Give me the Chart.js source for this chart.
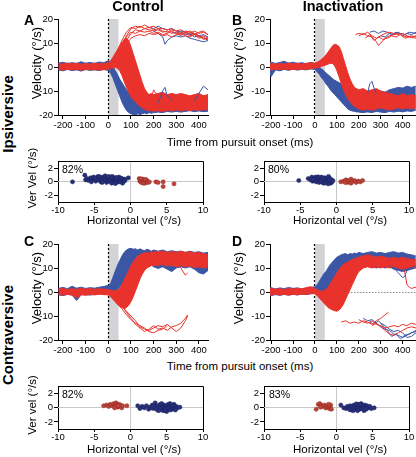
<!DOCTYPE html>
<html>
<head>
<meta charset="utf-8">
<script src="https://cdn.jsdelivr.net/npm/chart.js@4.4.1/dist/chart.umd.min.js"></script>
<style>
  body { margin: 0; background: #fff; font-family: "Liberation Sans", Arial, sans-serif; color: #000; }
  #fig { position: relative; width: 416px; height: 457px; overflow: hidden; }
  #fig canvas { position: absolute; }
  .t { position: absolute; white-space: nowrap; line-height: 1; transform: translate(-50%, -50%); }
  .v { transform: translate(-50%, -50%) rotate(-90deg); }
  .l { transform: translate(0, -50%); }
  .b { font-weight: bold; }
</style>
</head>
<body>
<div id="fig"></div>
<script>
// time base for the trace envelopes (ms from pursuit onset)
const TIME = [-220,-200,-180,-160,-140,-120,-100,-80,-60,-40,-20,
  0,10,20,30,40,50,60,70,80,90,100,110,120,130,140,150,160,170,180,190,200,
  220,240,260,280,300,320,340,360,380,400,420,440,460];
const TIME_TICKS = [-200,-100,0,100,200,300,400];
const VEL_TICKS = [-20,-10,0,10,20];
const SHADE = [0, 45];
const HV_TICKS = [-10,-5,0,5,10];
const VV_TICKS = [-2,0,2];

// ---- A: control, ipsiversive ----
const A_BLUE_HI = [1.6,2.0,1.4,1.8,1.5,2.2,1.6,1.9,1.5,2.1,1.8,
  2.6,2.0,0.5,-1.5,-3,-5,-6.5,-8,-9.5,-10.5,-11.5,-12,-12.5,-12,-12.5,-12,-11.5,-12,-11.5,-12,-12.5,
  -12,-11,-12,-12.5,-12,-12.5,-12,-12.5,-12,-11.5,-12,-12.5,-12];
const A_BLUE_LO = [-1.2,-1.6,-1.0,-1.5,-1.2,-1.7,-1.1,-1.4,-1.2,-1.5,-1.0,
  -1.5,-2.5,-4.5,-7,-9.5,-12,-14.5,-16.5,-18,-19,-19.5,-19.8,-20,-19.5,-19.8,-19.5,-19.2,-19.5,-19,-19.3,-19,
  -18.8,-19,-18.5,-18.8,-18.5,-18.8,-18.5,-18.2,-18.6,-18.3,-18.6,-18.4,-18.5];
const A_RED_HI = [1.5,1.2,1.7,1.3,1.6,1.1,1.5,1.2,1.6,1.3,1.5,
  1.8,2.5,4,5.5,7,8.5,10,11.5,12,11,8.5,5.5,2.5,-0.5,-3.5,-6.5,-9,-10.5,-11.5,-11,-11.5,
  -11,-10.5,-11.5,-11,-11.5,-11,-11.5,-12,-11.5,-11,-12,-11.5,-12];
const A_RED_LO = [-1.0,-1.3,-0.9,-1.2,-1.0,-1.4,-0.9,-1.2,-1.0,-1.3,-1.1,
  -1.0,-0.5,-0.5,0,-0.5,-1.5,-3.5,-6,-8.5,-10.5,-12.5,-13.5,-14.5,-15.5,-16.5,-17,-17.5,-18,-18.3,-18,-18.5,
  -18.2,-18.6,-18,-18.4,-17.8,-18.3,-17.9,-18.2,-17.8,-18.1,-17.7,-18,-17.8];
const A_BLUE_TRACES = [
  [[185,16.5],[200,16],[220,17],[240,16],[260,15.5],[280,16],[300,15],[320,14.5],[340,13.5],[360,14],[380,12.5],[400,13],[420,12],[440,11.5],[460,12]],
  [[200,15],[220,14],[240,12.5],[250,9.5],[260,11],[280,12.5],[300,13],[320,12.5],[340,13],[360,12],[380,11.5],[400,11],[420,10.5],[440,11],[460,10.5]],
  [[280,14.5],[300,14],[320,15],[340,14.5],[360,13.5],[380,14],[400,13],[420,13.5],[440,12.5],[460,13]],
  [[220,-15],[240,-10],[250,-8.5],[260,-12],[280,-14]],
  [[380,-14],[400,-11],[420,-8],[440,-9.5],[460,-12]]
];
const A_RED_TRACES = [
  [[0,0.5],[20,2],[40,5],[60,9],[80,13],[100,16],[120,17],[140,16.5],[160,17.5],[180,16.5],[200,17],[220,16],[240,16],[260,15.5],[280,16],[300,15],[320,15.5],[340,14.5],[360,14],[380,15],[400,14],[420,14.5],[440,13.5],[460,14]],
  [[0,0],[20,1.5],[40,4],[60,7.5],[80,11],[100,14],[120,15.5],[140,15],[160,16],[180,15.5],[200,15],[220,15.5],[240,14.5],[260,15],[280,14],[300,14.5],[320,13.5],[340,14],[360,13],[380,13.5],[400,12.5],[420,13],[440,12],[460,12.5]],
  [[0,0.5],[20,2.5],[40,6],[60,10],[80,12.5],[100,14.5],[120,14],[140,15],[160,14.5],[180,15],[200,14],[220,14.5],[240,13.5],[260,14],[280,15],[300,14],[320,13],[340,14.5],[360,15],[380,14],[400,13],[420,11.5],[440,12],[460,11]],
  [[0,0],[20,1],[40,3.5],[60,6.5],[80,9.5],[100,12],[120,13],[140,13.5],[160,13],[180,14],[200,13.5],[220,14],[240,13],[260,13.5],[280,12.5],[300,13.5],[320,14],[340,13],[360,12.5],[380,13.5],[400,12],[420,12.5],[440,11],[460,11.5]],
  [[0,1],[20,3],[40,7],[60,11],[80,14.5],[100,16.5],[120,16],[140,17],[160,16],[180,16.5],[200,15.5],[220,16],[240,15],[260,14.5],[280,15.5],[300,15],[320,14],[340,15],[360,14.5],[380,13.5],[400,14.5],[420,15],[440,13.5],[460,13]],
  [[190,-13],[200,-9.5],[210,-11],[220,-13]]
];

// ---- B: inactivation, ipsiversive ----
const B_BLUE_HI = [1.8,2.0,1.5,1.9,2.4,1.6,2.0,1.5,1.8,1.4,1.9,
  1.5,0.8,0,-0.8,-1.5,-2.5,-3.2,-4,-4.8,-5.5,-6,-6.5,-7.2,-8,-8.5,-9.2,-10,-10.5,-10.8,-11,-11.2,
  -11,-10.5,-11,-10.5,-10,-10.5,-9.5,-9,-8.5,-8.8,-8,-8.5,-8];
const B_BLUE_LO = [-1.5,-4,-1.2,-1.6,-1.0,-1.4,-0.9,-1.3,-1.0,-1.2,-0.8,
  -1.0,-2,-3,-4.5,-5.5,-7,-8,-9.5,-10.5,-11.5,-12.5,-13.5,-14.5,-15.5,-16.5,-17.5,-18,-18.3,-18.5,-18.7,-18.8,
  -19,-18.7,-19,-18.5,-18.8,-19,-18.5,-18.8,-18.4,-18.7,-18.3,-18.5,-18];
const B_RED_HI = [1.2,1.6,1.1,1.5,1.2,1.7,1.3,1.6,1.2,1.5,1.8,
  1.6,2.0,2.5,3.2,4,5,6.2,7.5,8.8,9.5,9.2,8.5,6.5,3.5,0.5,-2.5,-5,-7,-8.5,-9,-9.5,
  -9,-10,-9.5,-9,-10,-10.5,-11,-11.5,-12,-11,-12,-11.5,-12];
const B_RED_LO = [-0.8,-1.2,-0.9,-1.1,-0.8,-1.2,-0.9,-1.1,-0.8,-1.0,-0.7,
  -0.5,-0.3,0,0.3,0.5,0.8,1.2,1.5,1.5,0.5,-1.5,-4,-7,-9.5,-11.5,-13,-14.5,-15.5,-16.5,-17,-17.5,
  -18,-17.5,-18,-17.5,-17,-17.5,-18,-17.5,-17,-17.5,-17,-17.5,-17];
const B_BLUE_TRACES = [
  [[250,14.5],[270,15],[290,14],[310,15],[330,14.5],[350,13.5],[370,14.5],[390,14],[410,13.5],[430,14.5],[461,14]],
  [[300,13],[320,12.5],[340,14],[360,13.5],[380,14.5],[400,13],[420,14],[440,13.5],[461,14.5]],
  [[240,-11],[250,-7],[260,-6],[270,-9],[280,-11]]
];
const B_RED_TRACES = [
  [[185,13.5],[200,14],[220,13.5],[240,14.5],[260,13],[280,12],[300,13],[320,14],[340,14.5],[360,14],[380,13.5],[400,14],[420,13],[440,12.5],[461,13]],
  [[200,13],[220,14],[240,13],[260,12.5],[280,10.5],[290,9],[300,10],[320,12],[340,13],[360,13.5],[380,14],[400,13],[420,12.5],[440,13],[461,12.5]],
  [[230,12],[250,13.5],[270,11],[290,12.5],[310,11.5],[330,12],[350,13],[370,12.5],[390,13.5],[410,12],[430,12.5],[461,12]]
];

// ---- C: control, contraversive ----
const C_BLUE_HI = [1.5,1.9,1.4,2.4,1.6,2.0,1.5,1.8,1.6,2.0,2.3,
  2.8,3.5,6,8.5,11,13,15,16.5,17.5,18,18.2,17.8,18,17.5,18,17.5,17.2,17.8,17.5,17,17.5,
  17,17.5,16.8,17.2,16.8,17,16.5,17,16.5,16.8,16.2,16.5,16];
const C_BLUE_LO = [-1.2,-1.5,-1.0,-1.3,-3.5,-1.2,-1.0,-1.3,-0.9,-0.8,-0.5,
  0,0,0.2,0.5,1,2,3,4.5,6,7.5,9,10,11,11.5,11.8,12,11.5,11,10.8,11.2,10.5,
  9.8,10.5,9.5,8.5,10,10.5,10,10.5,9.5,8,7.5,9,10];
const C_RED_HI = [1.2,1.5,1.0,1.4,1.1,1.6,1.2,1.5,1.1,1.4,1.2,
  1.0,0.8,0.5,0.5,0.8,1.5,3,5,7,9,11,12.5,14,15,15.5,16,16.3,16.5,16.2,16.8,16.5,
  16.8,17,16.5,16.8,16.5,17,16.5,16.8,16.2,16.5,16,15.5,15];
const C_RED_LO = [-1.0,-1.3,-1.0,-1.2,-2.5,-1.1,-1.4,-1.0,-1.2,-0.9,-1.1,
  -1.2,-2,-3,-4,-5,-6,-6.5,-7,-6.5,-5.5,-4,-2,0.5,3,5.5,7.5,9,10,10.5,11,11.2,
  11,11.5,10.8,11.2,10.5,11,10.5,10.8,10.2,10.5,10,10.5,10];
const C_BLUE_TRACES = [];
const C_RED_TRACES = [
  [[0,0],[20,-2],[40,-4],[60,-6],[80,-8],[100,-10],[120,-12],[140,-14.5],[160,-15.5],[180,-16],[200,-15],[220,-14],[240,-14.5],[260,-13.5],[280,-15],[300,-16.5],[320,-15],[340,-12],[350,-10]],
  [[0,0],[20,-1.5],[40,-3.5],[60,-5.5],[80,-8.5],[100,-11],[120,-13.5],[140,-15],[160,-16.5],[180,-15.5],[200,-14],[220,-15.5],[240,-15],[260,-16],[280,-14.5],[300,-14],[320,-13],[340,-11],[350,-9.5]],
  [[0,0],[20,-2.5],[40,-5],[60,-7],[80,-9.5],[100,-11.5],[120,-13],[140,-14],[160,-15],[180,-16.5],[200,-17],[220,-16],[240,-15.5],[260,-14]],
  [[280,12.5],[300,12],[320,10],[340,7],[350,8]]
];

// ---- D: inactivation, contraversive ----
const D_BLUE_HI = [1.5,1.8,1.3,1.7,1.4,1.9,1.5,1.7,1.3,1.6,1.9,
  2.2,3,4.5,6,7.5,8.5,10,11.5,12.5,13.5,14.5,15,15.5,15.8,16,15.5,16,15.8,16.2,16,16.5,
  16,16.5,16.8,16.2,16.5,16,16.5,16.8,16.2,16.5,15.8,15.5,15];
const D_BLUE_LO = [-1.2,-1.5,-1.1,-1.4,-1.0,-1.3,-1.0,-1.2,-0.9,-1.1,-0.8,
  -0.5,-0.5,-0.2,0,0.3,0.7,1.5,2.5,3.5,4.3,5,6,7,8,9,10,10.5,11,11.5,11.8,11.5,
  11,11.5,10.5,10,10.5,10,10.5,9.5,9,8.5,9,9.5,10];
const D_RED_HI = [1.2,1.6,1.1,1.4,1.0,1.5,1.2,1.6,1.3,1.8,2.2,
  1.5,1,0.5,0.3,0.5,1,2,3.5,5,6.5,8,9.5,10.5,11.5,12,12.5,13,13.5,14,14.2,14.5,
  15,15.5,15,14.5,15,14.5,14,14.5,14,14.5,14,13.5,13.5];
const D_RED_LO = [-1.0,-1.3,-0.9,-1.2,-1.0,-1.3,-0.9,-1.2,-0.8,-1.0,-0.6,
  -0.8,-1.5,-2.5,-3.5,-4.5,-5.5,-6.5,-7,-7.5,-7.8,-8,-7.5,-6.5,-5,-3,-1,1,3,5,7,8.5,
  10,10.5,10,10.5,10,10.5,10,10.5,10,9.5,10,10.5,10];
const D_BLUE_TRACES = [
  [[340,11],[360,10],[380,8],[400,6],[410,6.5],[420,9],[440,10],[461,11]],
  [[220,-11],[240,-12],[260,-11.5],[280,-13],[300,-14.5],[320,-15.5],[340,-16],[360,-17.5],[380,-18],[400,-19],[420,-18],[440,-17],[461,-16.5]],
  [[250,-12.5],[270,-13.5],[290,-12],[310,-14],[330,-16],[350,-18.5],[370,-17.5],[390,-19.5],[410,-18],[430,-17.5],[461,-16]],
  [[300,-13],[320,-14],[340,-15.5],[360,-16.5],[380,-16],[400,-17],[420,-19],[440,-18.5],[461,-17]]
];
const D_RED_TRACES = [
  [[120,-12.5],[140,-12],[160,-13],[180,-12.5],[200,-13],[220,-12],[240,-12.5],[260,-13.5],[280,-12],[300,-11],[320,-9.5],[335,-8.5]],
  [[200,-11.5],[220,-12.5],[240,-13],[260,-12],[280,-13.5],[300,-14],[320,-15],[340,-14.5],[360,-14],[380,-14.5],[400,-13.5],[420,-14],[440,-13],[461,-13.5]],
  [[260,-14],[280,-13],[300,-14.5],[320,-16],[340,-17.5],[360,-18],[380,-17],[400,-16],[420,-15],[440,-14.5],[461,-15]],
  [[380,12],[400,11],[410,8],[420,3],[430,2],[440,1.5],[461,2]]
];

// ---- steady-state eye velocity scatter (horizontal, vertical) ----
const SA_BLUE = [[-8,0],[-6.3,1.0],[-6.2,0.3],[-6.0,0.5],[-5.8,0.2],[-5.6,0.4],[-5.5,0.6],[-5.3,0.3],[-5.1,0.7],[-5.0,0.4],[-4.8,0.1],[-4.7,0.5],[-4.5,0.8],[-4.4,0.3],[-4.2,0.6],[-4.1,0.0],[-4.0,0.4],[-3.8,0.7],[-3.7,0.2],[-3.6,0.5],[-3.5,0.9],[-3.4,0.3],[-3.3,-0.1],[-3.2,0.6],[-3.1,0.4],[-3.0,0.1],[-2.9,0.7],[-2.8,0.3],[-2.7,0.5],[-2.6,-0.2],[-2.5,0.8],[-2.4,0.2],[-2.3,0.5],[-2.2,0.0],[-2.1,0.6],[-2.0,0.3],[-1.9,-0.1],[-1.8,0.5],[-1.7,0.2],[-1.6,0.7],[-1.5,0.0],[-1.4,0.4],[-1.3,0.1],[-1.2,0.5],[-1.1,-0.2],[-1.0,0.3],[-0.9,0.1],[-0.8,0.4],[-0.3,0.6],[-4.9,0.6],[-3.9,-0.1],[-2.65,0.75],[-1.95,0.65],[-5.4,0.0],[-4.3,0.8],[-3.05,0.8],[-2.1,-0.25],[-1.35,0.55],[-0.75,0.2]];
const SA_RED = [[1.2,0.5],[1.3,0.1],[1.4,0.3],[1.5,-0.1],[1.6,0.2],[1.7,0.4],[1.8,0.0],[1.9,0.2],[2.0,-0.2],[2.1,0.1],[2.2,0.3],[2.4,-0.1],[2.6,0.0],[3.5,0.0],[3.8,-0.1],[4.5,0.0],[4.5,-0.7],[6.0,-0.3],[1.45,0.45],[1.75,-0.2],[2.05,0.35]];
const SB_BLUE = [[-5.2,0.2],[-3.9,0.5],[-3.6,0.3],[-3.4,0.7],[-3.3,0.1],[-3.1,0.5],[-3.0,0.2],[-2.9,0.7],[-2.8,0.0],[-2.7,0.4],[-2.6,0.6],[-2.5,0.2],[-2.4,-0.1],[-2.3,0.5],[-2.2,0.3],[-2.1,0.7],[-2.0,0.0],[-1.9,0.4],[-1.8,-0.2],[-1.7,0.3],[-1.6,0.6],[-1.5,0.1],[-1.4,0.4],[-1.3,-0.1],[-1.2,0.3],[-1.1,0.8],[-1.0,0.1],[-0.9,0.5],[-0.8,-0.2],[-0.7,0.3],[-0.6,0.0],[-0.5,0.2],[-2.55,0.75],[-1.85,0.6],[-1.15,-0.3],[-3.2,0.35],[-2.15,0.1],[-0.95,0.3],[-1.55,-0.15]];
const SB_RED = [[0.6,0.0],[1.0,0.1],[1.3,0.3],[1.5,-0.1],[1.6,0.2],[1.8,0.0],[2.0,0.4],[2.0,-0.2],[2.2,0.1],[2.5,0.2],[2.7,-0.1],[3.0,0.1],[3.3,0.0],[3.6,0.2],[1.2,-0.1]];
const SC_BLUE = [[1.0,0.3],[1.3,-0.1],[1.6,0.2],[1.9,0.0],[2.2,0.3],[2.5,-0.2],[2.7,0.1],[3.0,0.4],[3.2,-0.1],[3.4,0.7],[3.5,0.2],[3.7,-0.3],[3.8,0.3],[4.0,0.0],[4.1,0.5],[4.2,-0.2],[4.4,0.2],[4.5,-0.4],[4.6,0.4],[4.7,0.0],[4.8,-0.2],[4.9,0.3],[5.0,-0.5],[5.1,0.1],[5.2,0.5],[5.3,-0.1],[5.4,0.2],[5.5,-0.3],[5.6,0.4],[5.7,0.0],[5.8,-0.2],[5.9,0.2],[6.0,0.5],[6.1,-0.1],[6.3,0.2],[6.5,0.0],[6.8,0.1],[3.9,-0.4],[4.3,0.6],[5.45,0.6],[2.9,0.0],[4.85,-0.45],[5.75,0.35],[3.1,0.25],[6.2,-0.3]];
const SC_RED = [[-3.7,0.3],[-3.3,0.4],[-3.0,0.2],[-2.8,0.5],[-2.5,0.3],[-2.3,0.6],[-2.1,0.2],[-2.0,0.7],[-1.9,0.4],[-1.8,0.1],[-1.6,0.5],[-1.5,0.2],[-1.4,0.4],[-1.2,0.0],[-1.1,0.3],[-0.5,0.3],[-2.2,0.0],[-1.7,0.3]];
const SD_BLUE = [[0.6,0.4],[1.0,0.0],[1.3,-0.1],[1.5,0.2],[1.7,0.0],[1.9,0.3],[2.0,-0.3],[2.2,0.1],[2.4,0.4],[2.5,-0.2],[2.6,0.1],[2.8,0.3],[2.9,-0.4],[3.0,0.0],[3.1,0.5],[3.2,-0.2],[3.3,0.2],[3.4,0.6],[3.5,-0.1],[3.6,0.3],[3.7,0.0],[3.8,-0.4],[3.9,0.4],[4.0,0.1],[4.1,-0.2],[4.2,0.3],[4.4,0.0],[4.6,0.2],[4.8,-0.1],[5.2,0.0],[2.3,-0.4],[3.25,0.45],[2.75,0.55],[1.8,-0.25],[3.95,-0.15]];
const SD_RED = [[-2.8,-0.2],[-2.5,0.5],[-2.3,0.6],[-2.1,0.3],[-1.9,0.2],[-1.7,0.4],[-1.5,0.0],[-1.3,0.3],[-1.2,0.1],[-1.0,-0.1],[-0.9,0.2],[-0.8,0.4],[-0.7,-0.2],[-1.1,0.5],[-2.2,0.1]];

const BLUE = '#3c56a6';
const RED = '#e8322b';
const DOT_BLUE = '#28307a';
const DOT_RED = '#bf4239';

Chart.defaults.font.family = '"Liberation Sans", Arial, sans-serif';
Chart.defaults.color = '#000';

const fig = document.getElementById('fig');

// pixel helper matching chart.js border alignment
const align = (p) => Math.round(p - 0.5) + 0.5;

const markers = {
  id: 'markers',
  beforeDatasetsDraw(chart, args, opts) {
    const { ctx, chartArea: a, scales: { x, y } } = chart;
    ctx.save();
    ctx.beginPath();
    ctx.rect(a.left, a.top, a.right - a.left, a.bottom - a.top);
    ctx.clip();
    if (opts.shade) {
      const x0 = x.getPixelForValue(SHADE[0]);
      const x1 = x.getPixelForValue(SHADE[1]);
      ctx.fillStyle = '#d3d3d7';
      ctx.fillRect(x0, a.top, x1 - x0, a.bottom - a.top);
      ctx.strokeStyle = '#000';
      ctx.lineWidth = 1.2;
      ctx.setLineDash([2, 2]);
      ctx.beginPath();
      ctx.moveTo(align(x0), a.top);
      ctx.lineTo(align(x0), a.bottom);
      ctx.stroke();
    }
    if (opts.zeroLine) {
      const y0 = align(y.getPixelForValue(0));
      ctx.strokeStyle = '#888';
      ctx.lineWidth = 1;
      ctx.setLineDash([1.5, 1.5]);
      ctx.beginPath();
      ctx.moveTo(x.getPixelForValue(0), y0);
      ctx.lineTo(a.right, y0);
      ctx.stroke();
    }
    if (opts.cross) {
      ctx.strokeStyle = '#c8c8c8';
      ctx.lineWidth = 1;
      ctx.setLineDash([]);
      const x0 = align(x.getPixelForValue(0));
      const y0 = align(y.getPixelForValue(0));
      ctx.beginPath();
      ctx.moveTo(x0, a.top); ctx.lineTo(x0, a.bottom);
      ctx.moveTo(a.left, y0); ctx.lineTo(a.right, y0);
      ctx.stroke();
    }
    ctx.restore();
  },
  afterDraw(chart, args, opts) {
    if (!opts.box) return;
    const { ctx, chartArea: a } = chart;
    ctx.save();
    ctx.strokeStyle = '#000';
    ctx.lineWidth = 1;
    ctx.beginPath();
    ctx.moveTo(align(a.left), align(a.top));
    ctx.lineTo(align(a.right), align(a.top));
    ctx.lineTo(align(a.right), align(a.bottom));
    ctx.stroke();
    ctx.restore();
  }
};

function axis(kind, min, max, ticks, size, fontSize, tickLen, pad) {
  return {
    type: 'linear', min, max,
    afterBuildTicks: (s) => { s.ticks = ticks.map((v) => ({ value: v })); },
    afterFit: (s) => { if (kind === 'x') s.height = size; else s.width = size; },
    grid: { display: true, drawOnChartArea: false, drawTicks: true, tickLength: tickLen, color: '#000', lineWidth: 1 },
    border: { display: true, color: '#000', width: 1 },
    ticks: { color: '#000', font: { size: fontSize }, padding: pad, autoSkip: false, maxRotation: 0 }
  };
}

function placeCanvas(box, pad) {
  const canvas = document.createElement('canvas');
  canvas.width = box.r - box.l + pad.l + pad.r;
  canvas.height = box.b - box.t + pad.t + pad.b;
  canvas.style.left = (box.l - pad.l) + 'px';
  canvas.style.top = (box.t - pad.t) + 'px';
  fig.appendChild(canvas);
  return canvas;
}

function velocityChart(box, xMin, xMax, bands, blueTraces, redTraces, zeroLine) {
  const pad = { l: 30, t: 8, r: 10, b: 18 };
  const canvas = placeCanvas(box, pad);
  const datasets = [];
  const line = (pts, color, extra) => datasets.push(Object.assign({
    data: pts.map((p) => ({ x: p[0], y: p[1] })),
    borderColor: color, backgroundColor: color, borderWidth: 1,
    pointRadius: 0, tension: 0, fill: false
  }, extra || {}));
  const band = (lo, hi, color) => {
    line(TIME.map((t, i) => [t, lo[i]]), color);
    line(TIME.map((t, i) => [t, hi[i]]), color, { fill: datasets.length - 1 });
  };
  band(bands[0], bands[1], BLUE);
  band(bands[2], bands[3], RED);
  blueTraces.forEach((tr) => line(tr, BLUE));
  redTraces.forEach((tr) => line(tr, RED));
  datasets.forEach((d, i) => { d.order = 100 - i; });

  new Chart(canvas, {
    type: 'line',
    data: { datasets },
    options: {
      responsive: false, animation: false, events: [],
      layout: { padding: { top: pad.t, right: pad.r, left: 0, bottom: 0 } },
      plugins: { legend: { display: false }, tooltip: { enabled: false }, markers: { shade: true, zeroLine } },
      scales: {
        x: axis('x', xMin, xMax, TIME_TICKS, pad.b, 9.5, 4, 1),
        y: axis('y', -20, 20, VEL_TICKS, pad.l, 9.5, 4, 1)
      }
    },
    plugins: [markers]
  });
}

function scatterChart(box, blue, red) {
  const pad = { l: 24, t: 4, r: 6, b: 16 };
  const canvas = placeCanvas(box, pad);
  const pts = (arr) => arr.map((p) => ({ x: p[0], y: p[1] }));
  new Chart(canvas, {
    type: 'scatter',
    data: {
      datasets: [
        { data: pts(blue), backgroundColor: DOT_BLUE, borderColor: '#1b2060', borderWidth: 0.5, pointRadius: 2.1 },
        { data: pts(red), backgroundColor: DOT_RED, borderColor: '#8e2a24', borderWidth: 0.5, pointRadius: 2.1 }
      ]
    },
    options: {
      responsive: false, animation: false, events: [],
      layout: { padding: { top: pad.t, right: pad.r, left: 0, bottom: 0 } },
      plugins: { legend: { display: false }, tooltip: { enabled: false }, markers: { cross: true, box: true } },
      scales: {
        x: axis('x', -10, 10, HV_TICKS, pad.b, 9.5, 3, 0),
        y: axis('y', -3, 3, VV_TICKS, pad.l, 9.5, 4, 1)
      }
    },
    plugins: [markers]
  });
}

velocityChart({ l: 58, t: 19, r: 208, b: 115 }, -222, 440, [A_BLUE_LO, A_BLUE_HI, A_RED_LO, A_RED_HI], A_BLUE_TRACES, A_RED_TRACES, false);
velocityChart({ l: 270, t: 19, r: 416, b: 115 }, -205, 461, [B_BLUE_LO, B_BLUE_HI, B_RED_LO, B_RED_HI], B_BLUE_TRACES, B_RED_TRACES, false);
velocityChart({ l: 58, t: 244, r: 208, b: 340 }, -222, 440, [C_BLUE_LO, C_BLUE_HI, C_RED_LO, C_RED_HI], C_BLUE_TRACES, C_RED_TRACES, false);
velocityChart({ l: 270, t: 244, r: 416, b: 340 }, -205, 461, [D_BLUE_LO, D_BLUE_HI, D_RED_LO, D_RED_HI], D_BLUE_TRACES, D_RED_TRACES, true);

scatterChart({ l: 58, t: 159, r: 203, b: 202 }, SA_BLUE, SA_RED);
scatterChart({ l: 264, t: 159, r: 409, b: 202 }, SB_BLUE, SB_RED);
scatterChart({ l: 58, t: 384, r: 203, b: 429 }, SC_BLUE, SC_RED);
scatterChart({ l: 264, t: 384, r: 409, b: 429 }, SD_BLUE, SD_RED);

// text: [text, x, y, size, classes]
const LABELS = [
  ['Control', 138, 6, 14.5, 'b'],
  ['Inactivation', 343, 6, 14.5, 'b'],
  ['A', 29, 20, 14, 'b'],
  ['B', 237, 20, 14, 'b'],
  ['C', 29, 241, 14, 'b'],
  ['D', 237, 241, 14, 'b'],
  ['Ipsiversive', 7, 114, 15, 'b v'],
  ['Contraversive', 7, 335, 15, 'b v'],
  ['Velocity (°/s)', 36, 63, 13, 'v'],
  ['Velocity (°/s)', 238, 63, 13, 'v'],
  ['Velocity (°/s)', 36, 288, 13, 'v'],
  ['Velocity (°/s)', 238, 288, 13, 'v'],
  ['Time from pursuit onset (ms)', 240, 143, 11.5, ''],
  ['Time from pursuit onset (ms)', 240, 367, 11.5, ''],
  ['Horizontal vel (°/s)', 134, 221, 11.5, ''],
  ['Horizontal vel (°/s)', 340, 221, 11.5, ''],
  ['Horizontal vel (°/s)', 134, 450, 11.5, ''],
  ['Horizontal vel (°/s)', 340, 450, 11.5, ''],
  ['Ver Vel (°/s)', 33, 178, 11.5, 'v'],
  ['Ver vel (°/s)', 33, 405, 11.5, 'v'],
  ['82%', 62, 169, 10.5, 'l'],
  ['80%', 268, 169, 10.5, 'l'],
  ['82%', 62, 394, 10.5, 'l'],
  ['83%', 269, 394, 10.5, 'l']
];
LABELS.forEach(([text, x, y, size, cls]) => {
  const d = document.createElement('div');
  d.className = 't ' + cls;
  d.textContent = text;
  d.style.left = x + 'px';
  d.style.top = y + 'px';
  d.style.fontSize = size + 'px';
  fig.appendChild(d);
});
</script>
</body>
</html>
